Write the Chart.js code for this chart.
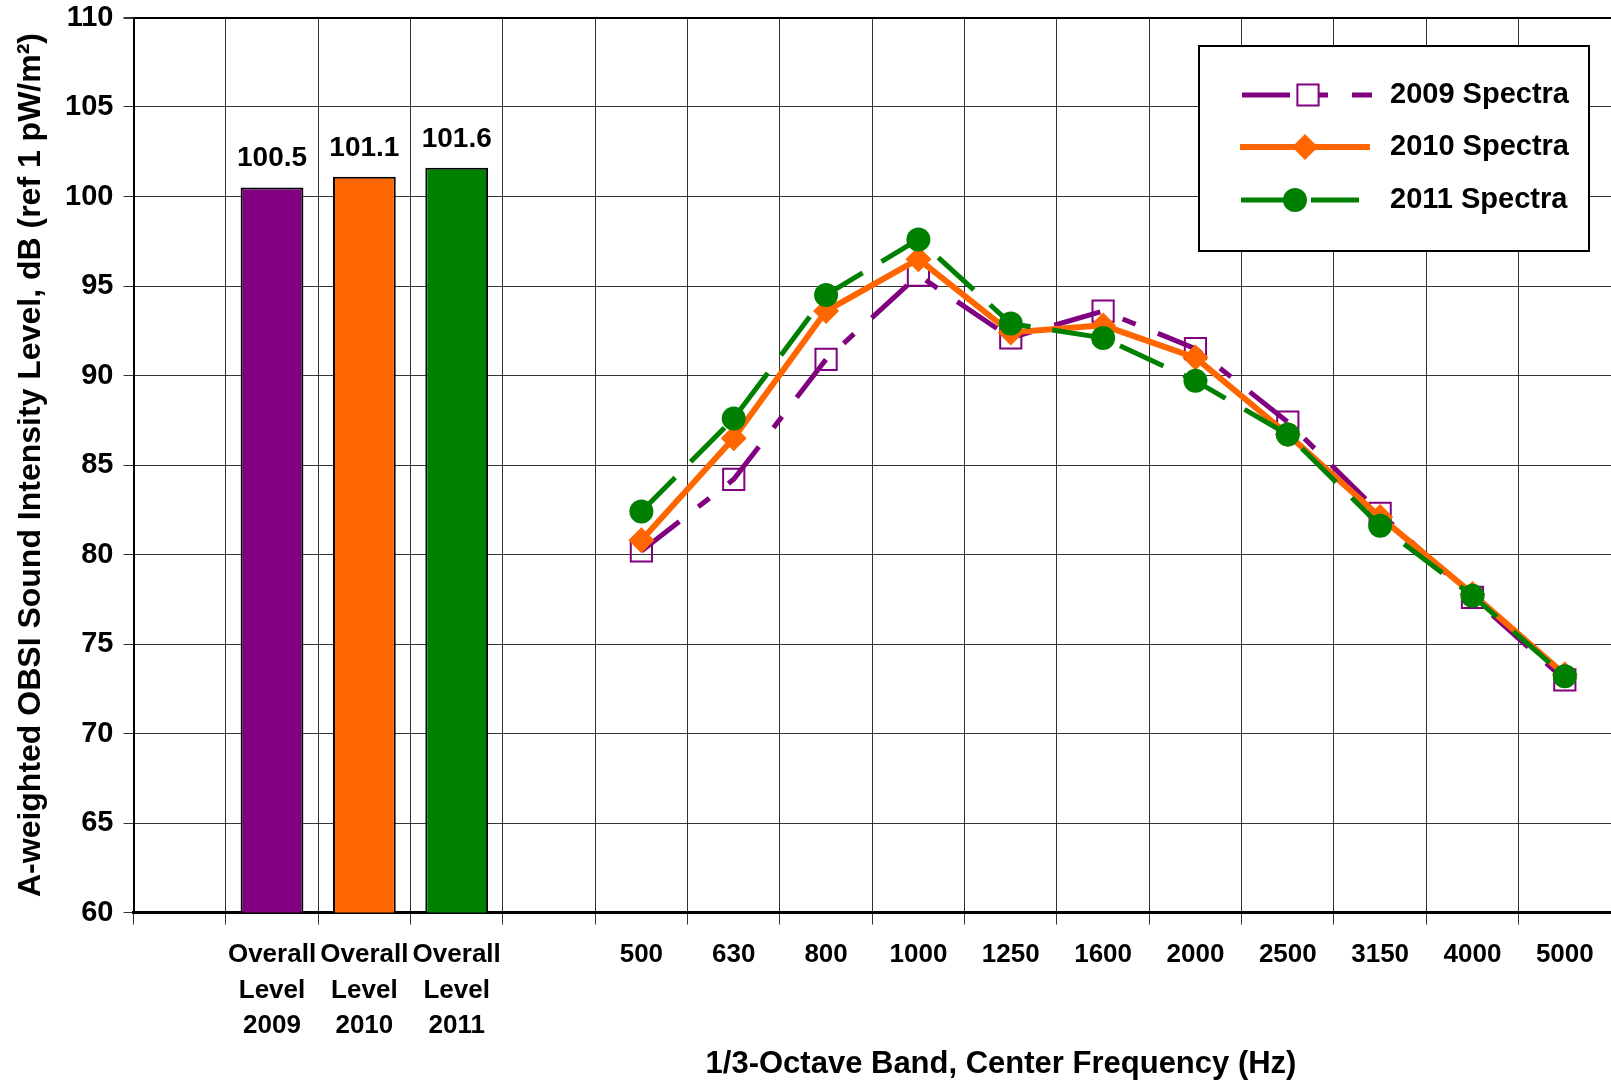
<!DOCTYPE html>
<html>
<head>
<meta charset="utf-8">
<script src="https://cdn.jsdelivr.net/npm/chart.js@4.4.1/dist/chart.umd.min.js"></script>
<style>
    html, body { margin: 0; padding: 0; background: #fff; overflow: hidden; }
    #wrap { width: 1611px; height: 1086px; position: relative; }
</style>
</head>
<body>
<div id="wrap"><canvas id="obsiChart"></canvas></div>
<script>
"use strict";

// Categories on the x axis: three overall levels, then the 1/3-octave bands
const xLabels = [
    "",
    ["Overall", "Level", "2009"],
    ["Overall", "Level", "2010"],
    ["Overall", "Level", "2011"],
    "",
    "500", "630", "800", "1000", "1250", "1600", "2000", "2500", "3150", "4000", "5000"
];

// Overall levels (bars)
const overallLevels = [null, 100.5, 101.1, 101.6, null, null, null, null, null, null, null, null, null, null, null, null];
const barColors = ["#800080", "#800080", "#FF6600", "#008000", "#800080"];

// Spectra (lines)
const spectra2009 = [null, null, null, null, null, 80.2, 84.2, 90.9, 95.6, 92.1, 93.6, 91.5, 87.4, 82.3, 77.6, 73.0];
const spectra2010 = [null, null, null, null, null, 80.8, 86.5, 93.6, 96.5, 92.4, 92.8, 91.0, 86.7, 82.1, 77.8, 73.3];
const spectra2011 = [null, null, null, null, null, 82.4, 87.6, 94.5, 97.6, 92.9, 92.1, 89.7, 86.7, 81.6, 77.7, 73.2];

const seriesNames = ["2009 Spectra", "2010 Spectra", "2011 Spectra"];

const yMin = 60;
const yMax = 110;
const yStep = 5;

const yTitle = "A-weighted OBSI Sound Intensity Level, dB (ref 1 pW/m\u00B2)";
const xTitle = "1/3-Octave Band, Center Frequency (Hz)";

const FONT = "'Liberation Sans', Arial, sans-serif";

// Values printed above the bars
const barLabelPlugin = {
    id: "barLabels",
    afterDatasetsDraw(chart) {
        const ctx = chart.ctx;
        const meta = chart.getDatasetMeta(0);
        ctx.save();
        ctx.font = "bold 28px " + FONT;
        ctx.fillStyle = "#000";
        ctx.textAlign = "center";
        ctx.textBaseline = "middle";
        meta.data.forEach(function (bar, i) {
            const v = overallLevels[i];
            if (v === null) return;
            ctx.fillText(v.toFixed(1), bar.x, bar.y - 29);
        });
        ctx.restore();
    }
};

// Axis titles (x title sits right of centre, as in the original)
const axisTitlePlugin = {
    id: "axisTitles",
    afterDraw(chart) {
        const ctx = chart.ctx;
        const area = chart.chartArea;
        ctx.save();
        ctx.font = "bold 31px " + FONT;
        ctx.fillStyle = "#000";
        ctx.textAlign = "center";
        ctx.textBaseline = "middle";
        ctx.fillText(xTitle, 1001, 1064);
        ctx.font = "bold 32px " + FONT;
        ctx.translate(31, (area.top + area.bottom) / 2);
        ctx.rotate(-Math.PI / 2);
        ctx.fillText(yTitle, 0, 0);
        ctx.restore();
    }
};

// Boxed legend with dashed line samples and markers
const legendPlugin = {
    id: "boxLegend",
    afterDraw(chart) {
        const ctx = chart.ctx;
        const box = { x: 1199, y: 46, w: 390, h: 205 };
        const rows = [95, 147, 200];
        const samples = [
            { ds: 1, x0: 1242, x1: 1372, mx: 1308 },
            { ds: 2, x0: 1240, x1: 1370, mx: 1305 },
            { ds: 3, x0: 1241, x1: 1381, mx: 1295 }
        ];
        ctx.save();
        ctx.fillStyle = "#fff";
        ctx.fillRect(box.x, box.y, box.w, box.h);
        ctx.strokeStyle = "#000";
        ctx.lineWidth = 2;
        ctx.strokeRect(box.x, box.y, box.w, box.h);

        samples.forEach(function (s, i) {
            const ds = chart.data.datasets[s.ds];
            const y = rows[i];
            ctx.save();
            ctx.strokeStyle = ds.borderColor;
            ctx.lineWidth = ds.borderWidth;
            ctx.setLineDash(ds.borderDash || []);
            ctx.beginPath();
            ctx.moveTo(s.x0, y);
            ctx.lineTo(s.x1, y);
            ctx.stroke();
            ctx.restore();

            ctx.save();
            ctx.fillStyle = ds.pointStyle === "rect" ? "#fff" : ds.pointBackgroundColor;
            ctx.strokeStyle = ds.pointBorderColor;
            ctx.lineWidth = ds.pointBorderWidth;
            Chart.helpers.drawPoint(ctx, {
                pointStyle: ds.pointStyle,
                radius: ds.pointRadius,
                rotation: 0,
                borderWidth: ds.pointBorderWidth
            }, s.mx, y);
            ctx.restore();

            ctx.font = "bold 29px " + FONT;
            ctx.fillStyle = "#000";
            ctx.textAlign = "left";
            ctx.textBaseline = "middle";
            ctx.fillText(seriesNames[i], 1390, y);
        });
        ctx.restore();
    }
};

const ctx = document.getElementById("obsiChart");

new Chart(ctx, {
    type: "bar",
    data: {
        labels: xLabels,
        datasets: [
            {
                type: "bar",
                label: "Overall Level",
                data: overallLevels,
                backgroundColor: barColors.concat(Array(11).fill("#800080")),
                borderColor: "#000",
                borderWidth: 2,
                categoryPercentage: 1,
                barPercentage: 0.68,
                order: 3
            },
            {
                type: "line",
                label: seriesNames[0],
                data: spectra2009,
                borderColor: "#800080",
                borderWidth: 5,
                borderDash: [48, 24, 14, 24],
                pointStyle: "rect",
                pointRadius: 15,
                pointBorderWidth: 2,
                pointBorderColor: "#800080",
                pointBackgroundColor: "rgba(255,255,255,0)",
                tension: 0,
                order: 2
            },
            {
                type: "line",
                label: seriesNames[1],
                data: spectra2010,
                borderColor: "#FF6600",
                borderWidth: 6,
                pointStyle: "rectRot",
                pointRadius: 13,
                pointBorderWidth: 0,
                pointBorderColor: "#FF6600",
                pointBackgroundColor: "#FF6600",
                tension: 0,
                order: 1
            },
            {
                type: "line",
                label: seriesNames[2],
                data: spectra2011,
                borderColor: "#008000",
                borderWidth: 5,
                borderDash: [48, 22],
                pointStyle: "circle",
                pointRadius: 12,
                pointBorderWidth: 0,
                pointBorderColor: "#008000",
                pointBackgroundColor: "#008000",
                tension: 0,
                order: 0
            }
        ]
    },
    options: {
        responsive: true,
        maintainAspectRatio: false,
        animation: false,
        layout: {
            autoPadding: false,
            padding: { top: 17.5, left: 0, right: 0, bottom: 0 }
        },
        plugins: {
            legend: { display: false },
            tooltip: { enabled: false },
            title: { display: false }
        },
        scales: {
            x: {
                offset: true,
                afterFit: function (scale) {
                    scale.height = 173.5;
                    scale.paddingLeft = 0;
                    scale.paddingRight = 0;
                },
                grid: {
                    offset: true,
                    color: "rgba(0,0,0,0.8)",
                    lineWidth: 1,
                    drawTicks: true,
                    tickLength: 12,
                    tickColor: "rgba(0,0,0,0.8)"
                },
                border: { display: true, color: "#000", width: 3 },
                ticks: {
                    autoSkip: false,
                    maxRotation: 0,
                    padding: 13,
                    color: "#000",
                    font: { family: FONT, size: 26, weight: "bold", lineHeight: 1.36 }
                }
            },
            y: {
                min: yMin,
                max: yMax,
                afterFit: function (scale) {
                    scale.width = 133.5;
                    scale.paddingTop = 0;
                    scale.paddingBottom = 0;
                },
                grid: {
                    color: function (c) { return c.tick && c.tick.value === yMax ? "#000" : "rgba(0,0,0,0.8)"; },
                    lineWidth: function (c) { return c.tick && c.tick.value === yMax ? 2 : 1; },
                    drawTicks: true,
                    tickLength: 10,
                    tickColor: "rgba(0,0,0,0.8)"
                },
                border: { display: true, color: "#000", width: 2 },
                ticks: {
                    stepSize: yStep,
                    padding: 10,
                    color: "#000",
                    font: { family: FONT, size: 29, weight: "bold" }
                }
            }
        }
    },
    plugins: [barLabelPlugin, axisTitlePlugin, legendPlugin]
});
</script>
</body>
</html>
